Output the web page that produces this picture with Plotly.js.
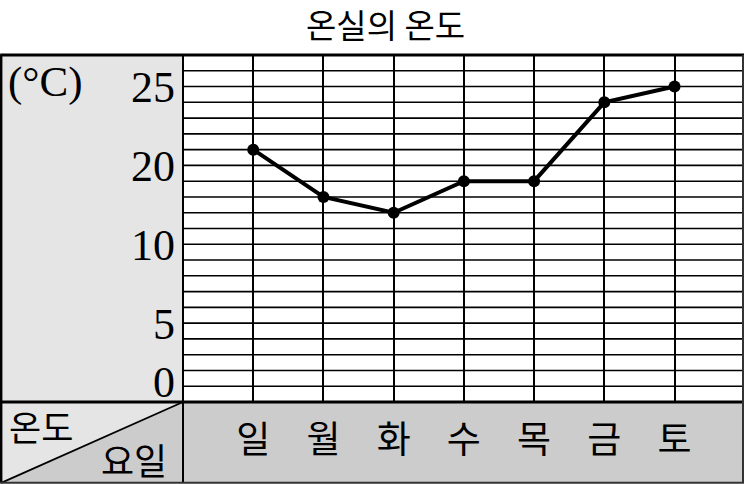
<!DOCTYPE html>
<html>
<head>
<meta charset="utf-8">
<script src="https://cdn.plot.ly/plotly-3.0.1.min.js"></script>
<style>
  html, body { margin: 0; padding: 0; background: #ffffff; }
  #chart { width: 745px; height: 484px; }
</style>
</head>
<body>
<div id="chart"></div>
<script>
// ---- data ----
const days = ['일', '월', '화', '수', '목', '금', '토'];
const temps = [21, 18, 17, 19, 19, 24, 25];
const yTickVals = [25, 20, 15, 10, 6.3];
const yTickText = ['25', '20', '10', '5', '0'];
const titleText = '온실의 온도';
const unitText = '(°C)';
const cornerTop = '온도';
const cornerBottom = '요일';

// ---- layout geometry (pixels) ----
const W = 745, H = 484;
const PL = 183, PR = 743.5, PT = 55, PB = 401.7;
const BOTTOM = 482.5, LEFT = 1;
const pw = PR - PL, ph = PB - PT;
const px = v => (v - PL) / pw;
const py = v => (PB - v) / ph;

const KFONT = '"Noto Sans CJK KR", "Noto Sans", sans-serif';
const NFONT = '"Liberation Serif", "DejaVu Serif", serif';

const shapes = [
  // left panel
  {type: 'rect', xref: 'paper', yref: 'paper', x0: px(LEFT), x1: px(PL), y0: py(PT), y1: py(PB),
   fillcolor: '#e5e5e5', line: {width: 0}, layer: 'below'},
  // bottom band
  {type: 'rect', xref: 'paper', yref: 'paper', x0: px(PL), x1: px(PR), y0: py(PB), y1: py(BOTTOM),
   fillcolor: '#cccccc', line: {width: 0}, layer: 'below'},
  // corner triangles
  {type: 'path', xref: 'paper', yref: 'paper',
   path: `M ${px(LEFT)} ${py(PB)} L ${px(PL)} ${py(PB)} L ${px(LEFT)} ${py(BOTTOM)} Z`,
   fillcolor: '#e5e5e5', line: {width: 0}, layer: 'below'},
  {type: 'path', xref: 'paper', yref: 'paper',
   path: `M ${px(PL)} ${py(PB)} L ${px(PL)} ${py(BOTTOM)} L ${px(LEFT)} ${py(BOTTOM)} Z`,
   fillcolor: '#cccccc', line: {width: 0}, layer: 'below'},
  // diagonal
  {type: 'line', xref: 'paper', yref: 'paper', x0: px(LEFT), y0: py(BOTTOM), x1: px(PL), y1: py(PB),
   line: {color: '#000000', width: 1.8}},
  // borders
  {type: 'line', xref: 'paper', yref: 'paper', x0: px(0), x1: px(PR + 1), y0: py(PT), y1: py(PT),
   line: {color: '#000000', width: 3}},
  {type: 'line', xref: 'paper', yref: 'paper', x0: px(0), x1: px(PR + 1), y0: py(PB), y1: py(PB),
   line: {color: '#000000', width: 3}},
  {type: 'line', xref: 'paper', yref: 'paper', x0: px(LEFT), x1: px(LEFT), y0: py(PT), y1: py(BOTTOM),
   line: {color: '#000000', width: 2.5}},
  {type: 'line', xref: 'paper', yref: 'paper', x0: px(PL), x1: px(PL), y0: py(PT), y1: py(BOTTOM),
   line: {color: '#000000', width: 2}},
  {type: 'line', xref: 'paper', yref: 'paper', x0: px(PR), x1: px(PR), y0: py(PT), y1: py(BOTTOM),
   line: {color: '#333333', width: 2}},
  {type: 'line', xref: 'paper', yref: 'paper', x0: px(0), x1: px(PR + 1), y0: py(BOTTOM), y1: py(BOTTOM),
   line: {color: '#333333', width: 2}}
];

const annotations = [
  {xref: 'paper', yref: 'paper', x: px(6), y: py(82), xanchor: 'left', yanchor: 'middle',
   text: unitText, showarrow: false, font: {family: NFONT, size: 43, color: '#000000'}},
  {xref: 'paper', yref: 'paper', x: px(41), y: py(425), xanchor: 'center', yanchor: 'middle',
   text: cornerTop, showarrow: false, font: {family: KFONT, size: 35, color: '#000000'}},
  {xref: 'paper', yref: 'paper', x: px(134), y: py(459), xanchor: 'center', yanchor: 'middle',
   text: cornerBottom, showarrow: false, font: {family: KFONT, size: 36, color: '#000000'}},
  // title
  {xref: 'paper', yref: 'paper', x: px(385.5), y: py(24), xanchor: 'center', yanchor: 'middle',
   text: titleText, showarrow: false, font: {family: KFONT, size: 33, color: '#000000'}}
];

const trace = {
  type: 'scatter',
  mode: 'lines+markers',
  x: days,
  y: temps,
  line: {color: '#000000', width: 4},
  marker: {color: '#000000', size: 12},
  cliponaxis: false,
  hoverinfo: 'skip'
};

const layout = {
  width: W, height: H,
  margin: {l: PL, r: W - PR, t: PT, b: H - PB, pad: 0},
  paper_bgcolor: '#ffffff',
  plot_bgcolor: '#ffffff',
  showlegend: false,
  xaxis: {
    type: 'category',
    range: [-1, 6.975],
    showgrid: true, gridcolor: '#000000', gridwidth: 2,
    zeroline: false, showline: false,
    ticks: '', ticklabelstandoff: 13,
    tickfont: {family: KFONT, size: 37, color: '#000000'},
    fixedrange: true
  },
  yaxis: {
    range: [5, 27],
    tickmode: 'array',
    tickvals: yTickVals,
    ticktext: yTickText,
    showgrid: false,
    zeroline: false, showline: false,
    ticks: '', ticklabelstandoff: 7,
    tickfont: {family: NFONT, size: 44, color: '#000000'},
    fixedrange: true
  },
  shapes: shapes.concat(
    // horizontal grid lines, one per degree of the drawn scale
    Array.from({length: 21}, (_, i) => ({
      type: 'line', xref: 'paper', yref: 'y', x0: 0, x1: 1, y0: 6 + i, y1: 6 + i,
      line: {color: '#000000', width: 1.6}, layer: 'below'
    }))
  ),
  annotations: annotations
};

Plotly.newPlot('chart', [trace], layout, {displayModeBar: false, staticPlot: true});
</script>
</body>
</html>
